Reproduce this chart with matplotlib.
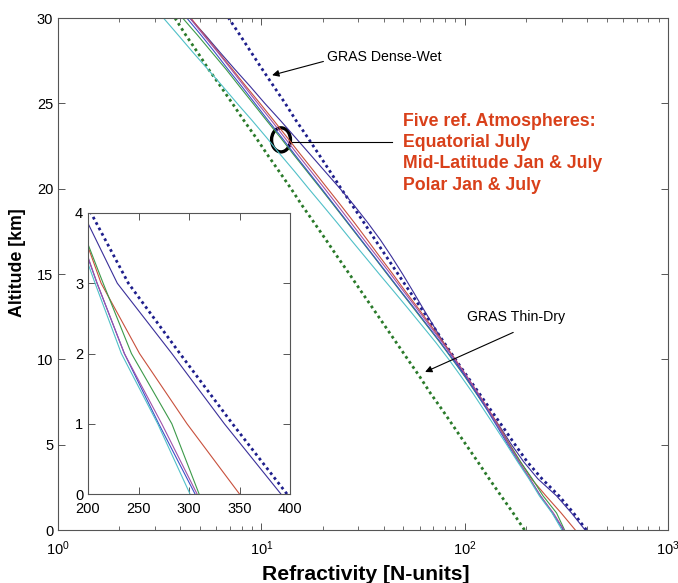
import matplotlib
matplotlib.use("Agg")
import matplotlib.pyplot as plt
from matplotlib.patches import Ellipse
from matplotlib.ticker import LogLocator, LogFormatterSciNotation, NullFormatter, MultipleLocator

plt.rcParams['font.family'] = ['Liberation Sans', 'DejaVu Sans']
plt.rcParams['mathtext.fontset'] = 'custom'
plt.rcParams['mathtext.rm'] = 'Liberation Sans'
plt.rcParams['mathtext.it'] = 'Liberation Sans'

# Altitude grid [km]
alt = [0, 1, 2, 3, 4, 5, 6, 7, 8, 9, 10, 11, 12, 13, 14, 15, 16, 17, 18, 19, 20,
       21, 22, 23, 24, 25, 26, 27, 28, 29, 30]

# GRAS bounding profiles [N-units]
gras_dense_wet = [397, 343, 291, 240, 203, 177, 155, 135, 118, 103, 90, 79, 69.5, 61, 53.5, 47, 41.3,
                  36.3, 32, 28.1, 24.7, 21.8, 19.2, 16.9, 14.8, 13.1, 11.5, 10.1, 8.9, 7.85, 6.9]
gras_thin_dry = [197, 173, 151, 132, 116, 101.5, 89, 78, 68, 60, 52.5, 46, 40.3, 35.3, 30.9, 27.1, 23.7,
                 20.8, 18.2, 15.9, 14, 12.25, 10.7, 9.4, 8.2, 7.2, 6.3, 5.5, 4.85, 4.25, 3.76]

# Reference atmospheres [N-units]
ref_equatorial_jul = [391, 335, 283, 229, 195, 170, 150, 131, 115, 101, 89, 78.5, 70, 62.3, 55.6, 49.5, 43.8,
                      38.5, 33.4, 28.7, 24.4, 20.6, 17.4, 14.7, 12.4, 10.4, 8.8, 7.4, 6.25, 5.3, 4.45]
ref_midlat_jul = [350, 298, 251, 213, 188, 167, 149, 132, 116.5, 102.5, 90, 78.5, 68, 59, 51, 44.3, 38.3,
                  33.2, 28.7, 24.7, 21.2, 18.2, 15.6, 13.4, 11.5, 9.85, 8.4, 7.2, 6.15, 5.25, 4.5]
ref_midlat_jan = [310, 283, 243, 215, 188, 166, 147, 130, 114, 100, 87, 75.5, 65, 56, 48.2, 41.5, 35.8,
                  30.8, 26.5, 22.8, 19.6, 16.8, 14.4, 12.4, 10.6, 9.1, 7.8, 6.7, 5.7, 4.85, 4.1]
ref_polar_jul = [306, 270, 236, 209, 184, 163, 145.5, 129.5, 114.5, 100.5, 87.5, 76, 65.5, 56.5, 48.5, 41.8, 36,
                 31, 26.7, 23, 19.8, 17, 14.6, 12.6, 10.8, 9.3, 8.0, 6.85, 5.9, 5.05, 4.3]
ref_polar_jan = [308, 273, 236, 209, 185, 165, 147.5, 131.5, 116.5, 102.5, 89.5, 77.5, 67, 58, 50, 43.2, 37.2,
                 32, 27.6, 23.8, 20.5, 17.6, 15.1, 13, 11.2, 9.6, 8.25, 7.1, 6.1, 5.2, 4.45]
ref_cyan = [301, 269, 233, 207, 182, 161, 142, 125, 110, 96, 83.5, 72, 61.5, 52.5, 44.7, 38, 32.4,
            27.6, 23.6, 20.1, 17.1, 14.6, 12.4, 10.6, 9.0, 7.6, 6.45, 5.45, 4.6, 3.9, 3.3]

solid = [
    (ref_equatorial_jul, '#3a2f9a'),
    (ref_midlat_jul, '#c8503c'),
    (ref_midlat_jan, '#3c9a4a'),
    (ref_polar_jul, '#3c50c8'),
    (ref_polar_jan, '#a050a8'),
    (ref_cyan, '#50c0c8'),
]
dense_col = '#1e1e8c'
thin_col = '#2a7a2a'
frame_col = '#555555'

fig = plt.figure(figsize=(6.78, 5.83), dpi=100)
ax = fig.add_axes([58 / 678, 53 / 583, 610 / 678, 512 / 583])

dots = (0, (1.0, 1.2))
ax.plot(gras_dense_wet, alt, color=dense_col, lw=2.0, ls=dots)
ax.plot(gras_thin_dry, alt, color=thin_col, lw=2.0, ls=dots)
for vals, c in solid:
    ax.plot(vals, alt, color=c, lw=0.8)

ax.set_xscale('log')
ax.set_xlim(1, 1000)
ax.set_ylim(0, 30)
ax.yaxis.set_major_locator(MultipleLocator(5))
ax.xaxis.set_major_locator(LogLocator(base=10, numticks=10))
ax.xaxis.set_major_formatter(LogFormatterSciNotation())
ax.xaxis.set_minor_locator(LogLocator(base=10, subs=range(2, 10), numticks=10))
ax.xaxis.set_minor_formatter(NullFormatter())
ax.tick_params(which='both', direction='in', top=True, right=True, color=frame_col,
               labelsize=10.5, labelcolor='black')
ax.tick_params(which='major', length=5, width=0.7)
ax.tick_params(which='minor', length=3, width=0.6)
ax.tick_params(axis='x', pad=7)
for s in ax.spines.values():
    s.set_color(frame_col)
    s.set_linewidth(0.8)

ax.set_xlabel('Refractivity [N-units]', fontsize=15.2, fontweight='bold')
ax.xaxis.set_label_coords(0.505, -0.068)
ax.set_ylabel('Altitude [km]', fontsize=12.8, fontweight='bold')
ax.yaxis.set_label_coords(-0.053, 0.523)

# Annotations
ax.annotate('GRAS Dense-Wet', xy=(11.3, 26.65), xytext=(21.0, 27.7),
            fontsize=10.2, va='center', ha='left',
            arrowprops=dict(arrowstyle='-|>', color='black', lw=0.8, mutation_scale=10,
                            shrinkA=0, shrinkB=0, relpos=(-0.03, 0.2)))
ax.annotate('GRAS Thin-Dry', xy=(63.9, 9.26), xytext=(102.8, 12.48),
            fontsize=10.2, va='center', ha='left',
            arrowprops=dict(arrowstyle='-|>', color='black', lw=0.8, mutation_scale=10,
                            shrinkA=0, shrinkB=0, relpos=(0.47, -0.6)))

ax.add_patch(Ellipse((0.3656, 0.762), width=0.031, height=0.047, transform=ax.transAxes,
                     fill=False, lw=2.4, color='black'))
ax.plot([14.16, 43.9], [22.73, 22.73], color='black', lw=0.8)
ax.text(49.8, 24.45, 'Five ref. Atmospheres:\nEquatorial July\nMid-Latitude Jan & July\nPolar Jan & July',
        fontsize=12.8, fontweight='bold', color='#d9401a', va='top', ha='left', linespacing=1.33)

# Inset: lowest 4 km on a linear scale
ins = fig.add_axes([88 / 678, 89 / 583, 202 / 678, 281 / 583])
ins.plot(gras_dense_wet, alt, color=dense_col, lw=2.0, ls=dots)
ins.plot(gras_thin_dry, alt, color=thin_col, lw=2.0, ls=dots)
for vals, c in solid:
    ins.plot(vals, alt, color=c, lw=0.8)
ins.set_xlim(200, 400)
ins.set_ylim(0, 4)
ins.xaxis.set_major_locator(MultipleLocator(50))
ins.yaxis.set_major_locator(MultipleLocator(1))
ins.tick_params(direction='in', top=True, right=True, color=frame_col, length=5, width=0.7,
                labelsize=10.5)
ins.tick_params(axis='x', pad=6)
for s in ins.spines.values():
    s.set_color(frame_col)
    s.set_linewidth(0.8)

fig.savefig('out.png', dpi=100)
